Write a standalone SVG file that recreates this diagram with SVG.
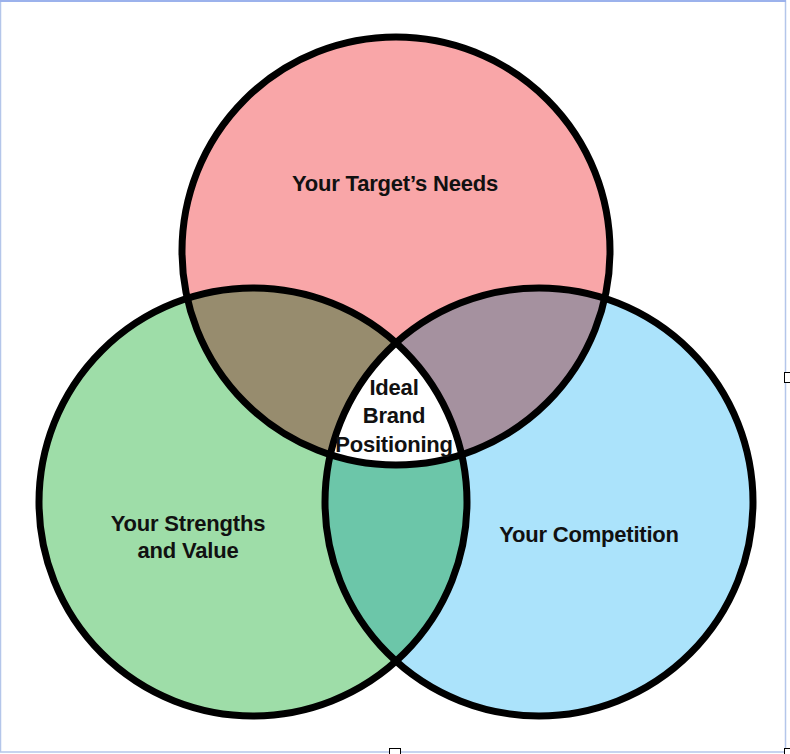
<svg xmlns="http://www.w3.org/2000/svg" width="790" height="754" viewBox="0 0 790 754">
<style>
.lbl{font-family:"Liberation Sans",Arial,Helvetica,sans-serif;font-weight:bold;font-size:22px;fill:#111;text-anchor:middle;letter-spacing:-0.2px}
.ring{fill:none;stroke:#000;stroke-width:7}
.handle{fill:#fff;stroke:#000;stroke-width:1}
</style>
<defs>
<clipPath id="cTop"><circle cx="396" cy="251" r="214"/></clipPath>
<clipPath id="cLeft"><circle cx="253" cy="502" r="214"/></clipPath>
<clipPath id="cRight"><circle cx="539" cy="502" r="214"/></clipPath>
</defs>
<rect x="0" y="0" width="790" height="754" fill="#fff"/>
<rect x="0.5" y="1" width="785" height="751" fill="none" stroke="#b4c6ea" stroke-width="1.5"/>
<line x1="0" y1="1" x2="786" y2="1" stroke="#9cb2ec" stroke-width="2"/>
<g id="fills">
<circle cx="396" cy="251" r="214" fill="#f9a6a8"/>
<circle cx="253" cy="502" r="214" fill="#9edda8"/>
<circle cx="539" cy="502" r="214" fill="#abe3fb"/>
<g clip-path="url(#cTop)"><circle cx="253" cy="502" r="214" fill="#978c6e"/></g>
<g clip-path="url(#cTop)"><circle cx="539" cy="502" r="214" fill="#a5919f"/></g>
<g clip-path="url(#cLeft)"><circle cx="539" cy="502" r="214" fill="#6cc6a9"/></g>
<g clip-path="url(#cTop)"><g clip-path="url(#cLeft)"><circle cx="539" cy="502" r="214" fill="#fff"/></g></g>
</g>
<g id="target-needs">
<circle class="ring" cx="396" cy="251" r="214"/>
<text class="lbl" x="395" y="191">Your Target’s Needs</text>
</g>
<g id="strengths-value">
<circle class="ring" cx="253" cy="502" r="214"/>
<text class="lbl" x="188" y="531">Your Strengths</text>
<text class="lbl" x="188" y="558">and Value</text>
</g>
<g id="competition">
<circle class="ring" cx="539" cy="502" r="214"/>
<text class="lbl" x="589" y="542">Your Competition</text>
</g>
<g id="ideal-positioning">
<text class="lbl" x="394" y="395">Ideal</text>
<text class="lbl" x="394" y="423">Brand</text>
<text class="lbl" x="394" y="452">Positioning</text>
</g>
<g id="connectors"></g>
<rect class="handle" x="784.5" y="372.5" width="10" height="10"/>
<rect class="handle" x="389.5" y="748.5" width="11" height="10"/>
<rect class="handle" x="784.5" y="748.5" width="10" height="10"/>
</svg>
